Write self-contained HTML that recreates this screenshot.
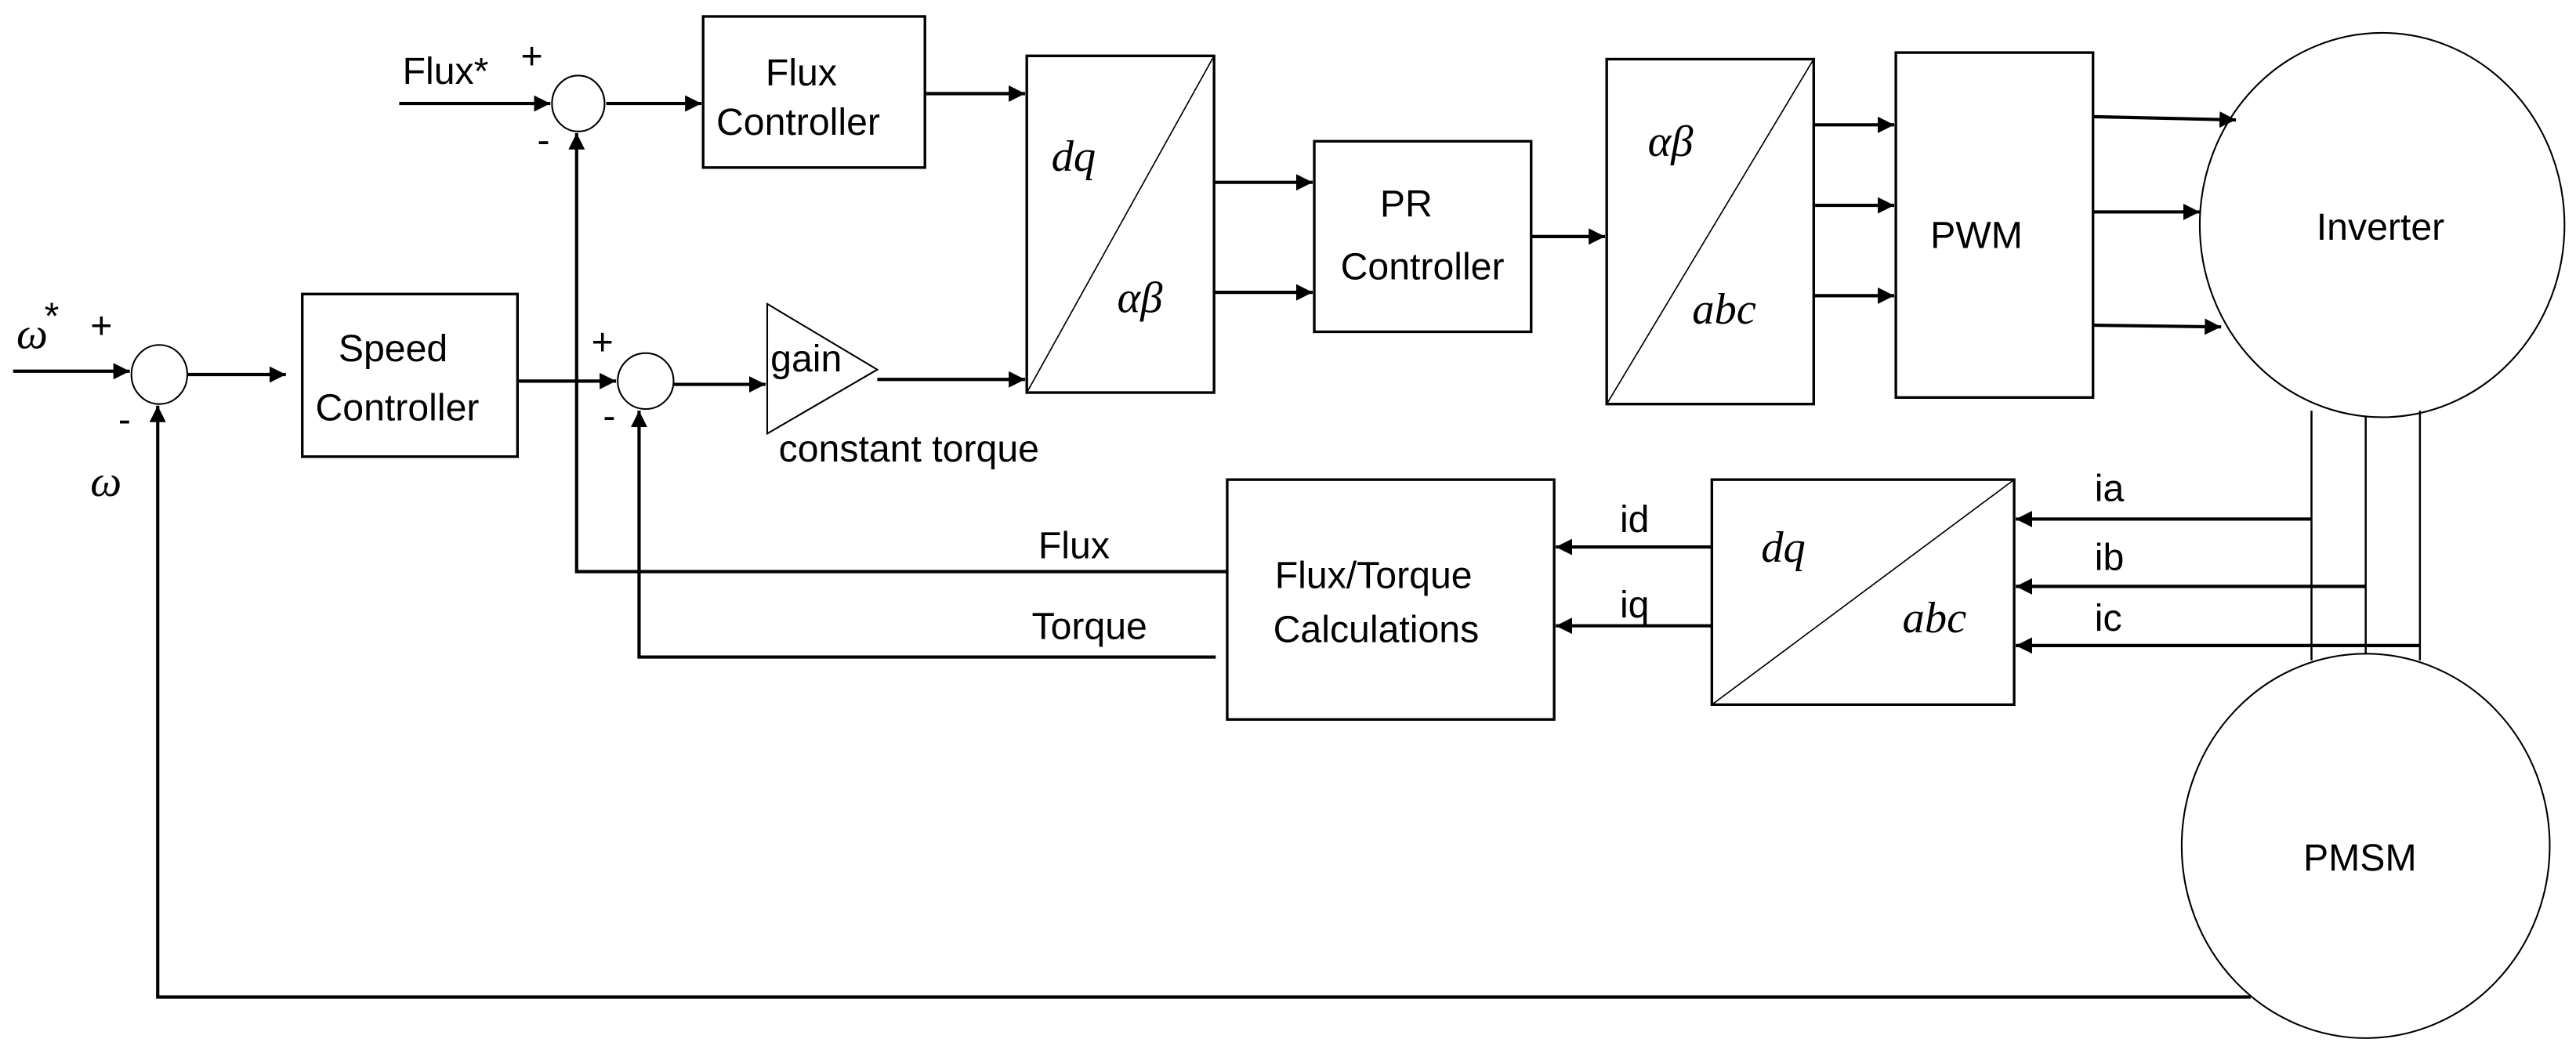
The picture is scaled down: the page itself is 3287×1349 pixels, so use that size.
<!DOCTYPE html>
<html><head><meta charset="utf-8"><style>
html,body{margin:0;padding:0;background:#fff;}
svg{display:block;}
text{font-family:"Liberation Sans",sans-serif;font-size:23px;fill:#000;}
.m{font-family:"Liberation Serif",serif;font-style:italic;font-size:27px;}
</style></head><body>
<svg width="3287" height="1349" viewBox="0 0 1568 643.5" xmlns="http://www.w3.org/2000/svg">
<defs><marker id="a" viewBox="0 0 10 10" refX="10" refY="5" markerWidth="5" markerHeight="5" orient="auto"><path d="M0,0L10,5L0,10z" fill="#000"/></marker></defs>
<g fill="none" stroke="#000" stroke-width="1.6">
<rect x="428" y="10" width="135" height="92"/>
<rect x="625" y="34" width="114" height="205"/><line x1="625" y1="239" x2="739" y2="34" stroke-width="0.8"/>
<rect x="800" y="86" width="132" height="116"/>
<rect x="978" y="36" width="126" height="210"/><line x1="978" y1="246" x2="1104" y2="36" stroke-width="0.8"/>
<rect x="1154" y="32" width="120" height="210"/>
<rect x="184" y="179" width="131" height="99"/>
<rect x="747" y="292" width="199" height="146"/>
<rect x="1042" y="292" width="184" height="137"/><line x1="1042" y1="429" x2="1226" y2="292" stroke-width="0.8"/>
<ellipse cx="1450" cy="137" rx="111" ry="117" stroke-width="1"/>
<ellipse cx="1440" cy="515" rx="112" ry="117" stroke-width="1"/>
<ellipse cx="352" cy="63" rx="16" ry="17" stroke-width="1"/>
<ellipse cx="97" cy="228" rx="17" ry="18" stroke-width="1"/>
<ellipse cx="393" cy="232" rx="17" ry="17" stroke-width="1"/>
<polygon points="467,185 534,225 467,264" stroke-width="1"/>
<g stroke-width="2" marker-end="url(#a)">
<line x1="243" y1="63" x2="335" y2="63"/>
<line x1="369" y1="63" x2="427" y2="63"/>
<line x1="563" y1="57" x2="624" y2="57"/>
<line x1="739" y1="111" x2="799" y2="111"/>
<line x1="739" y1="178" x2="799" y2="178"/>
<line x1="932" y1="144" x2="977" y2="144"/>
<line x1="1104" y1="76" x2="1153" y2="76"/>
<line x1="1104" y1="125" x2="1153" y2="125"/>
<line x1="1104" y1="180" x2="1153" y2="180"/>
<line x1="1274" y1="71" x2="1361" y2="73"/>
<line x1="1274" y1="129" x2="1339" y2="129"/>
<line x1="1274" y1="198" x2="1352" y2="199"/>
<line x1="8" y1="226" x2="79" y2="226"/>
<line x1="114" y1="228" x2="174" y2="228"/>
<line x1="315" y1="232" x2="375" y2="232"/>
<line x1="410" y1="234" x2="466" y2="234"/>
<line x1="534" y1="231" x2="624" y2="231"/>
<line x1="1042" y1="333" x2="947" y2="333"/>
<line x1="1042" y1="381" x2="947" y2="381"/>
<line x1="1407" y1="316" x2="1227" y2="316"/>
<line x1="1440" y1="357" x2="1227" y2="357"/>
<line x1="1473" y1="393" x2="1227" y2="393"/>
<polyline points="747,348 351,348 351,81"/>
<polyline points="740,400 389,400 389,250"/>
<polyline points="1370,607 96,607 96,247"/>
</g>
<g stroke-width="1.2">
<line x1="1407" y1="250" x2="1407" y2="402"/>
<line x1="1440" y1="253" x2="1440" y2="398"/>
<line x1="1473" y1="250" x2="1473" y2="402"/>
</g>
</g>
<text x="245" y="51">Flux*</text><text x="317" y="42" font-size="17">+</text><text x="327" y="93">-</text>
<text x="466" y="52">Flux</text><text x="436" y="82">Controller</text>
<text class="m" x="640" y="104">dq</text><text class="m" x="680" y="190">αβ</text>
<text x="840" y="132">PR</text><text x="816" y="170">Controller</text>
<text class="m" x="1003" y="95">αβ</text><text class="m" x="1030" y="197">abc</text>
<text x="1175" y="151">PWM</text>
<text x="1410" y="146">Inverter</text>
<text x="1402" y="530">PMSM</text>
<text x="1275" y="305">ia</text><text x="1275" y="347">ib</text><text x="1275" y="384">ic</text>
<text class="m" x="1072" y="342">dq</text><text class="m" x="1158" y="385">abc</text>
<text x="986" y="324">id</text><text x="986" y="376">iq</text>
<text x="776" y="358">Flux/Torque</text><text x="775" y="391">Calculations</text>
<text x="632" y="340">Flux</text><text x="628" y="389">Torque</text>
<text x="206" y="220">Speed</text><text x="192" y="256">Controller</text>
<text class="m" x="10" y="212">ω</text><text x="27" y="200" font-size="13">*</text><text x="55" y="206" font-size="17">+</text>
<text x="72" y="263">-</text><text class="m" x="55" y="302">ω</text>
<text x="360" y="216" font-size="17">+</text><text x="367" y="261">-</text>
<text x="469" y="226" font-size="18">gain</text>
<text x="474" y="281" font-size="17">constant torque</text>
</svg>
</body></html>
